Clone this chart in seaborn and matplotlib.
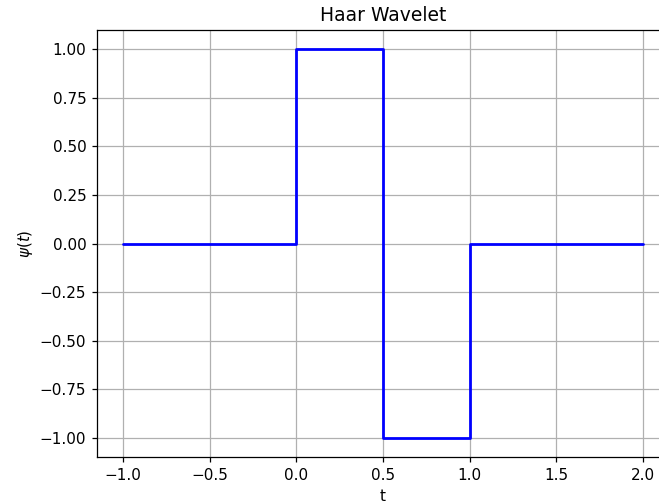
import matplotlib
matplotlib.use("Agg")
import matplotlib.pyplot as plt
import seaborn as sns
import pandas as pd

t_vals = [-1.0, 0.0, 0.0, 0.5, 0.5, 1.0, 1.0, 2.0]
psi_vals = [0, 0, 1, 1, -1, -1, 0, 0]
xticks = [-1.0, -0.5, 0.0, 0.5, 1.0, 1.5, 2.0]
yticks = [-1.00, -0.75, -0.50, -0.25, 0.00, 0.25, 0.50, 0.75, 1.00]

sns.set_style("ticks")
plt.rcParams['font.family'] = ['DejaVu Sans']
plt.rcParams['text.color'] = 'black'
plt.rcParams['axes.labelcolor'] = 'black'
plt.rcParams['xtick.color'] = 'black'
plt.rcParams['ytick.color'] = 'black'

df = pd.DataFrame({"t": t_vals, "psi": psi_vals, "order": range(len(t_vals))})

fig = plt.figure(figsize=(6.59, 5.04), dpi=100)
W, H = 659, 504
ax = fig.add_axes([97 / W, (H - 457) / H, (669 - 97) / W, (457 - 30) / H])
sns.lineplot(data=df, x="t", y="psi", sort=False, estimator=None, color="blue",
             linewidth=2, ax=ax)
ax.set_xlim(-1.15, 2.15)
ax.set_ylim(-1.1, 1.1)
ax.set_xticks(xticks)
ax.set_xticklabels([f"{v:.1f}".replace("-", "\u2212") for v in xticks])
ax.set_yticks(yticks)
ax.set_yticklabels([f"{v:.2f}".replace("-", "\u2212") for v in yticks])
ax.grid(True, color="#b0b0b0", linewidth=0.9)
ax.set_axisbelow(True)
for s in ax.spines.values():
    s.set_visible(True)
    s.set_color("black")
    s.set_linewidth(0.9)
ax.tick_params(labelsize=11, length=3.9, width=0.9, color="black",
               labelcolor="black", direction="out", pad=3.8)
ax.set_title("Haar Wavelet", fontsize=13.5, color="black", pad=6.5)
ax.set_xlabel("t", fontsize=11, color="black", labelpad=4.5)
ax.set_ylabel(r"$\psi(t)$", fontsize=11, color="black", labelpad=3.5)
fig.savefig("out.png", dpi=100)
